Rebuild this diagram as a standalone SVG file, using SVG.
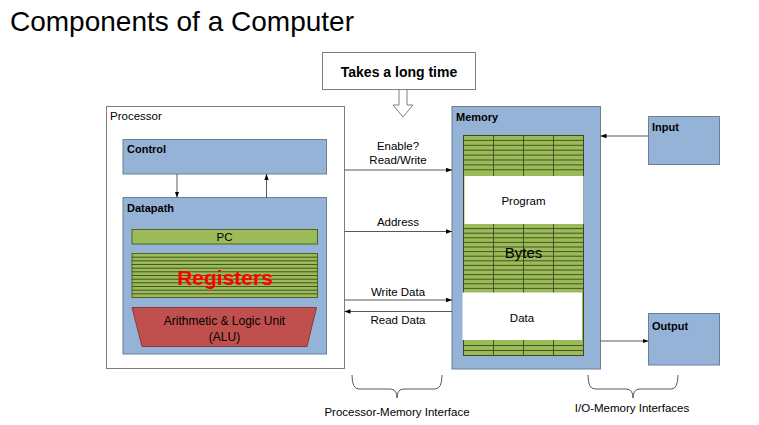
<svg xmlns="http://www.w3.org/2000/svg" width="759" height="425" viewBox="0 0 759 425">
<defs>
<style>
text{font-family:"Liberation Sans",Arial,sans-serif;fill:#000}
.lbl{font-size:11px;font-weight:bold}
.sm{font-size:11.5px}
.blue{fill:#95b3d7;stroke:#6b7f99;stroke-width:1}
.green{fill:#9bbb59;stroke:#4f6228;stroke-width:1}
.grid{stroke:#3b4a1e;stroke-width:0.9;fill:none}
.wire{stroke:#595959;stroke-width:1;fill:none}
.mid{text-anchor:middle}
</style>
<marker id="ah" viewBox="0 0 6 6" refX="6" refY="3" markerWidth="6" markerHeight="6" markerUnits="userSpaceOnUse" orient="auto">
<path d="M0,0.8 L6,3 L0,5.2 Z" fill="#000"/>
</marker>
</defs>
<rect width="759" height="425" fill="#fff"/>
<text x="10" y="31" font-size="28">Components of a Computer</text>

<g id="note">
<rect x="322.5" y="52.5" width="153" height="37" fill="#fff" stroke="#7f7f7f"/>
<text x="399" y="77" class="mid" font-size="14" font-weight="bold">Takes a long time</text>
<polygon points="399,89.5 407,89.5 407,105 413,105 403,117 393,105 399,105" fill="#fff" stroke="#7f7f7f"/>
</g>

<g id="processor">
<rect x="106.5" y="106.5" width="238" height="262" fill="#fff" stroke="#7f7f7f"/>
<text x="110" y="120" font-size="11.5">Processor</text>
</g>

<g id="control">
<rect x="123" y="139.5" width="203.5" height="34.5" class="blue"/>
<text x="127" y="153" class="lbl">Control</text>
</g>

<g id="datapath">
<rect x="123" y="197.5" width="203.5" height="156.5" class="blue"/>
<text x="127" y="212" class="lbl">Datapath</text>
</g>

<g id="pc">
<rect x="132" y="229.5" width="185.5" height="14.5" class="green"/>
<text x="224.5" y="241" class="mid" font-size="11.5">PC</text>
</g>

<g id="registers">
<rect x="132" y="253.5" width="185.5" height="44" class="green"/>
<path class="grid" d="M132,257.2H317.5M132,260.8H317.5M132,264.5H317.5M132,268.2H317.5M132,271.8H317.5M132,275.5H317.5M132,279.2H317.5M132,282.8H317.5M132,286.5H317.5M132,290.2H317.5M132,293.8H317.5"/>
<text x="225" y="285" class="mid" font-size="21" font-weight="bold" style="fill:#ff0000">Registers</text>
</g>

<g id="alu">
<polygon points="132,307.5 316.5,307.5 307,346.5 142,346.5" fill="#c0504d" stroke="#8c3836"/>
<text x="224.5" y="324.5" class="mid" font-size="12">Arithmetic &amp; Logic Unit</text>
<text x="224.5" y="340.5" class="mid" font-size="12">(ALU)</text>
</g>

<g id="memory">
<rect x="452" y="106.5" width="148.5" height="262.5" class="blue"/>
<text x="456" y="121" class="lbl">Memory</text>
<rect x="463.5" y="135.5" width="120" height="220" class="green"/>
<path class="grid" d="M463.5,140.4H583.5M463.5,145.3H583.5M463.5,150.2H583.5M463.5,155.1H583.5M463.5,160H583.5M463.5,164.9H583.5M463.5,169.8H583.5"/>
<path class="grid" d="M463.5,228.6H583.5M463.5,233.2H583.5M463.5,237.8H583.5M463.5,242.4H583.5M463.5,247H583.5M463.5,251.6H583.5M463.5,256.2H583.5M463.5,260.8H583.5M463.5,265.4H583.5M463.5,270H583.5M463.5,274.6H583.5M463.5,279.2H583.5M463.5,283.8H583.5M463.5,288.4H583.5"/>
<path class="grid" d="M463.5,345.5H583.5M463.5,350.5H583.5"/>
<path class="grid" d="M493.5,135.5V355.5M523.5,135.5V355.5M553.5,135.5V355.5"/>
<rect x="463.5" y="135.5" width="120" height="220" fill="none" stroke="#3b4a1e" stroke-width="1"/>
<rect x="464.5" y="176" width="119" height="48" fill="#fff"/>
<text x="523.5" y="204.5" class="mid" font-size="11.5">Program</text>
<text x="523.5" y="258" class="mid" font-size="15">Bytes</text>
<rect x="462.5" y="292.5" width="119.5" height="47.5" fill="#fff"/>
<text x="522" y="322" class="mid" font-size="11.5">Data</text>
</g>

<g id="input">
<rect x="648.5" y="116.5" width="71" height="48" class="blue"/>
<text x="652" y="130.5" class="lbl">Input</text>
</g>

<g id="output">
<rect x="648.5" y="313.5" width="71" height="51.5" class="blue"/>
<text x="652" y="330" class="lbl">Output</text>
</g>

<g id="connectors">
<line class="wire" x1="177" y1="174" x2="177" y2="197.5" marker-end="url(#ah)"/>
<line class="wire" x1="266.5" y1="197.5" x2="266.5" y2="174" marker-end="url(#ah)"/>
<line class="wire" x1="344.5" y1="170" x2="452" y2="170" marker-end="url(#ah)"/>
<line class="wire" x1="344.5" y1="231.5" x2="452" y2="231.5" marker-end="url(#ah)"/>
<line class="wire" x1="344.5" y1="300" x2="452" y2="300" marker-end="url(#ah)"/>
<line class="wire" x1="452" y1="311.5" x2="344.5" y2="311.5" marker-end="url(#ah)"/>
<line class="wire" x1="648.5" y1="136" x2="600.5" y2="136" marker-end="url(#ah)"/>
<line class="wire" x1="600.5" y1="341" x2="648.5" y2="341" marker-end="url(#ah)"/>
<text x="398" y="150" class="mid sm">Enable?</text>
<text x="398" y="163.5" class="mid sm">Read/Write</text>
<text x="398" y="225.5" class="mid sm">Address</text>
<text x="398" y="295.5" class="mid sm">Write Data</text>
<text x="398" y="324" class="mid sm">Read Data</text>
</g>

<g id="braces">
<path class="wire" d="M352,375 Q352,389 359,389 L390,389 Q397,389 397,398 Q397,389 404,389 L435,389 Q442,389 442,375" stroke="#262626"/>
<path class="wire" d="M588,375 Q588,389 595,389 L626,389 Q633,389 633,398 Q633,389 640,389 L671,389 Q678,389 678,375" stroke="#262626"/>
<text x="397" y="415.5" class="mid sm">Processor-Memory Interface</text>
<text x="632" y="412" class="mid sm">I/O-Memory Interfaces</text>
</g>
</svg>
